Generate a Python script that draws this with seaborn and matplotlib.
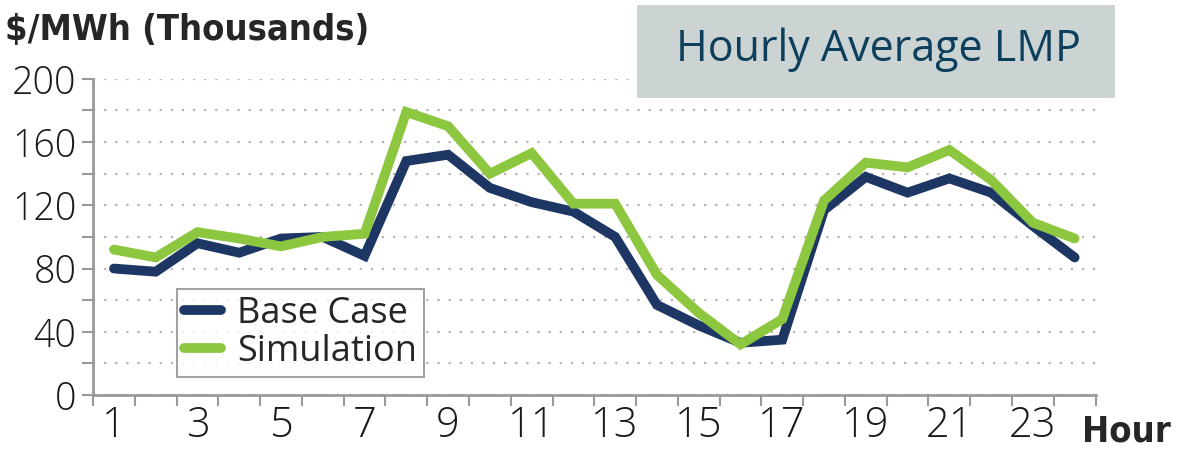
import pandas as pd
import matplotlib
matplotlib.use("Agg")
import matplotlib.pyplot as plt
from matplotlib.patches import Rectangle
from matplotlib import font_manager
import seaborn as sns

# hourly average LMP
hours = list(range(1, 25))
base_case = [80, 78, 96, 90, 99, 100, 88, 148, 152, 131, 122, 116,
             100, 57, 44, 33, 35, 117, 138, 128, 137, 128, 107, 87]
simulation = [92, 87, 103, 99, 94, 100, 102, 179, 170, 140, 153, 121,
              121, 76, 52, 32, 48, 123, 147, 144, 155, 136, 109, 99]
series_names = ["Base Case", "Simulation"]
y_labels = ["0", "", "40", "", "80", "", "120", "", "160", "", "200"]
x_labels = [str(h) for h in range(1, 25, 2)]

df = pd.DataFrame({
    "Hour": hours * 2,
    "LMP": base_case + simulation,
    "Series": [series_names[0]] * 24 + [series_names[1]] * 24,
})

names = set(f.name for f in font_manager.fontManager.ttflist)
narrow = [n for n in ["Liberation Sans Narrow", "DejaVu Sans Condensed"] if n in names]
narrow_family = narrow + ["DejaVu Sans"]

sns.set_style("white")
plt.rcParams['font.family'] = ['Open Sans', 'DejaVu Sans']

fig = plt.figure(figsize=(11.78, 4.53), dpi=100)
ax = fig.add_axes([0.079, 0.128, 0.851, 0.698])

sns.lineplot(data=df, x="Hour", y="LMP", hue="Series",
             palette=["#1e3664", "#8dc63f"], linewidth=7,
             solid_capstyle="round", solid_joinstyle="miter", ax=ax)

ax.set_xlim(0.5, 24.5)
ax.set_ylim(0, 200)

# ticks between categories, labels on odd hours
ax.set_xticks([h + 0.5 for h in range(0, 25)])
ax.set_xticklabels([])
ax.set_xticks(list(range(1, 25, 2)), minor=True)
ax.set_xticklabels(x_labels, minor=True)
ax.tick_params(axis="x", which="major", direction="out", length=8,
               width=1.5, color="#9a9a9a", bottom=True)
ax.tick_params(axis="x", which="minor", length=0, pad=7, labelsize=30)

ax.set_yticks(list(range(0, 201, 20)))
ax.set_yticklabels(y_labels)
ax.tick_params(axis="y", direction="out", length=8, width=1.5,
               color="#9a9a9a", left=True, labelsize=27, pad=4)
for t in ax.get_xticklabels(minor=True) + ax.get_yticklabels():
    t.set_fontweight("light")
    t.set_color("#1a1a1a")

ax.yaxis.grid(True, linestyle=(0, (1, 4)), color="#b5b5b5", linewidth=1.6)
ax.set_axisbelow(True)

for s in ["top", "right"]:
    ax.spines[s].set_visible(False)
for s in ["left", "bottom"]:
    ax.spines[s].set_color("#9a9a9a")
    ax.spines[s].set_linewidth(2)

ax.set_xlabel("")
ax.set_ylabel("")

leg = ax.legend(loc="lower left", bbox_to_anchor=(0.084, 0.057),
                fontsize=26, frameon=True, fancybox=False,
                handlelength=1.0, handletextpad=0.45, borderpad=0.2,
                labelspacing=0.05, borderaxespad=0)
leg.get_frame().set_edgecolor("#8a8a8a")
leg.get_frame().set_linewidth(1.5)
for line in leg.get_lines():
    line.set_linewidth(7)
    line.set_solid_capstyle("round")

fig.text(0.004, 1 - 30 / 453, "$/MWh (Thousands)", ha="left", va="center",
         fontsize=26, fontweight="bold", fontstretch="condensed",
         family=narrow_family)
fig.text(0.994, 1 - 432 / 453, "Hour", ha="right", va="center",
         fontsize=26, fontweight="bold", fontstretch="condensed",
         family=narrow_family)

fig.patches.append(Rectangle((637 / 1178, 1 - 98 / 453), 478 / 1178, 93 / 453,
                             transform=fig.transFigure, facecolor="#cbd4d3",
                             edgecolor="none", zorder=5))
fig.text(878 / 1178, 1 - 50 / 453, "Hourly Average LMP", ha="center",
         va="center", fontsize=31, color="#0d3f5c", zorder=6)

fig.savefig("out.png", dpi=100)
